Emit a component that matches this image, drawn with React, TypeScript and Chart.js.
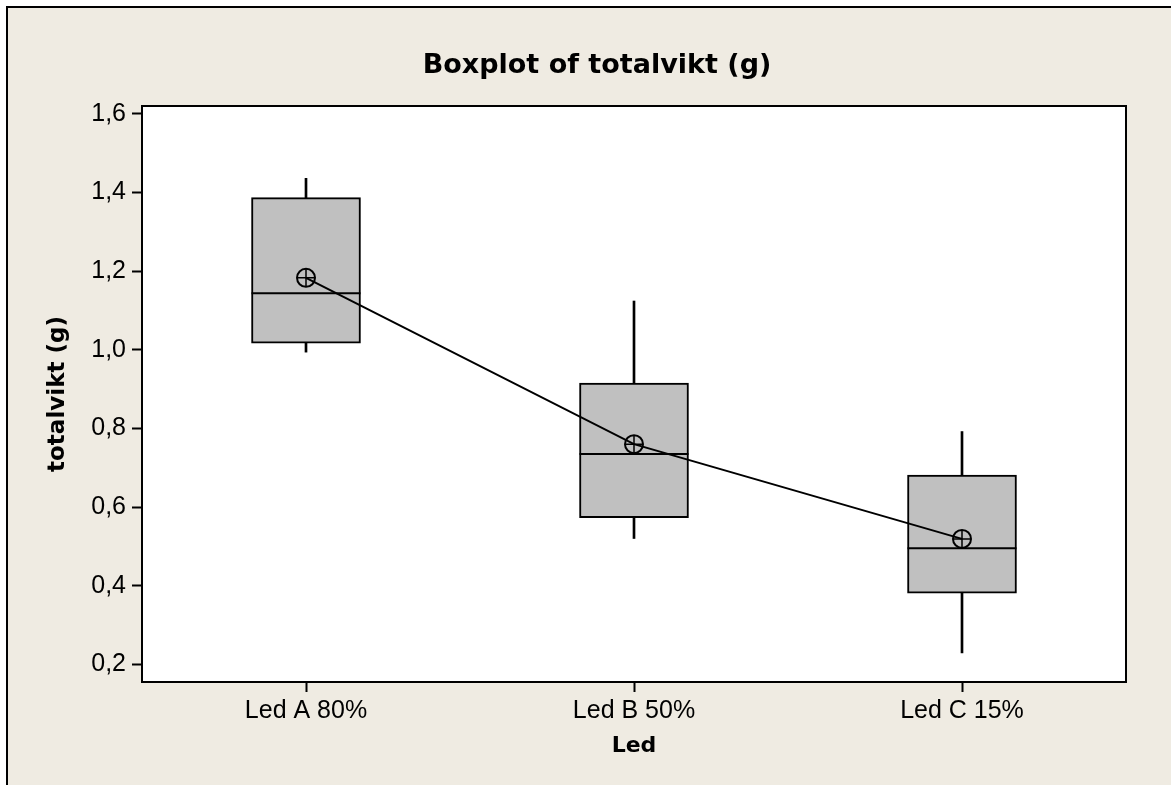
import React, { useEffect, useRef } from "react";
import { Chart, registerables } from "chart.js";

Chart.register(...registerables);

// ---- data ----
const categories = ["Led A 80%", "Led B 50%", "Led C 15%"];
const whiskerLow = [0.994, 0.52, 0.229];
const q1 = [1.017, 0.573, 0.381];
const median = [1.144, 0.735, 0.495];
const q3 = [1.387, 0.915, 0.681];
const whiskerHigh = [1.436, 1.124, 0.792];
const means = [1.183, 0.76, 0.519];
const yTickValues = [0.2, 0.4, 0.6, 0.8, 1.0, 1.2, 1.4, 1.6];
const yMin = 0.155;
const yMax = 1.62;
const chartTitle = "Boxplot of totalvikt (g)";
const xTitle = "Led";
const yTitle = "totalvikt (g)";

const BEIGE = "#EFEBE2";
const BOX_FILL = "#C0C0C0";
const REG_FONT = "'Liberation Sans', Arial, sans-serif";
const BOLD_FONT = "'DejaVu Sans', Verdana, sans-serif";

const framePlugin = {
  id: "framePlugin",
  beforeDraw(chart: any) {
    const { ctx, width, height, chartArea } = chart;
    ctx.save();
    ctx.fillStyle = "#ffffff";
    ctx.fillRect(0, 0, width, height);
    ctx.fillStyle = BEIGE;
    ctx.fillRect(7, 7, width, height);
    ctx.strokeStyle = "#000";
    ctx.lineWidth = 2;
    ctx.beginPath();
    ctx.moveTo(7, height);
    ctx.lineTo(7, 7);
    ctx.lineTo(width, 7);
    ctx.stroke();
    ctx.fillStyle = "#ffffff";
    ctx.fillRect(chartArea.left, chartArea.top, chartArea.right - chartArea.left, chartArea.bottom - chartArea.top);
    ctx.fillStyle = "#000";
    ctx.font = `bold 27px ${BOLD_FONT}`;
    ctx.textAlign = "center";
    ctx.textBaseline = "middle";
    ctx.fillText(chartTitle, 597, 66);
    ctx.restore();
  },
  afterDraw(chart: any) {
    const { ctx, chartArea } = chart;
    ctx.save();
    ctx.strokeStyle = "#000";
    ctx.lineWidth = 2;
    ctx.strokeRect(chartArea.left, chartArea.top, chartArea.right - chartArea.left, chartArea.bottom - chartArea.top);
    ctx.restore();
  },
};

export default function App() {
  const ref = useRef<HTMLCanvasElement | null>(null);

  useEffect(() => {
    if (!ref.current) return;
    const chart = new Chart(ref.current, {
      type: "bar",
      data: {
        labels: categories,
        datasets: [
          {
            type: "line",
            label: "Mean cross",
            data: means,
            showLine: false,
            pointStyle: "cross",
            pointRadius: 9,
            pointBorderWidth: 1.5,
            pointBorderColor: "#000",
            order: 0,
          } as any,
          {
            type: "line",
            label: "Mean",
            data: means,
            borderColor: "#000",
            borderWidth: 2,
            tension: 0,
            pointStyle: "circle",
            pointRadius: 9,
            pointBorderWidth: 2,
            pointBorderColor: "#000",
            pointBackgroundColor: "rgba(0,0,0,0)",
            order: 1,
          } as any,
          {
            type: "line",
            label: "Median",
            data: median,
            showLine: false,
            pointStyle: "line",
            pointRadius: 54.5,
            pointBorderWidth: 2,
            pointBorderColor: "#000",
            order: 2,
          } as any,
          {
            type: "bar",
            label: "IQR",
            data: q1.map((v, i) => [v, q3[i]]),
            backgroundColor: BOX_FILL,
            borderColor: "#000",
            borderWidth: 2,
            borderSkipped: false,
            barThickness: 109,
            grouped: false,
            order: 3,
          } as any,
          {
            type: "bar",
            label: "Whiskers",
            data: whiskerLow.map((v, i) => [v, whiskerHigh[i]]),
            backgroundColor: "#000",
            borderWidth: 0,
            barThickness: 2,
            grouped: false,
            order: 4,
          } as any,
        ],
      },
      options: {
        animation: false,
        responsive: false,
        events: [],
        layout: { autoPadding: false, padding: { left: 0, top: 106, right: 45, bottom: 0 } },
        plugins: {
          legend: { display: false },
          tooltip: { enabled: false },
          title: { display: false },
        },
        scales: {
          x: {
            type: "category",
            offset: true,
            border: { display: false },
            grid: {
              offset: false,
              drawOnChartArea: false,
              drawTicks: true,
              tickLength: 10,
              tickWidth: 2,
              color: "#000",
            },
            ticks: {
              color: "#000",
              font: { family: REG_FONT, size: 25 },
              padding: 4,
              maxRotation: 0,
            },
            title: {
              display: true,
              text: xTitle,
              color: "#000",
              font: { family: BOLD_FONT, size: 22, weight: "bold" },
              padding: { top: 0, bottom: 26 },
            },
            afterFit: (scale: any) => {
              scale.height = 103;
              scale.paddingLeft = 0;
              scale.paddingRight = 0;
            },
          },
          y: {
            type: "linear",
            min: yMin,
            max: yMax,
            border: { display: false },
            grid: {
              drawOnChartArea: false,
              drawTicks: true,
              tickLength: 10,
              tickWidth: 2,
              color: "#000",
            },
            afterBuildTicks: (scale: any) => {
              scale.ticks = yTickValues.map((v) => ({ value: v }));
            },
            ticks: {
              color: "#000",
              font: { family: REG_FONT, size: 25 },
              padding: 6,
              callback: (v: any) => Number(v).toFixed(1).replace(".", ","),
            },
            title: {
              display: true,
              text: yTitle,
              color: "#000",
              font: { family: BOLD_FONT, size: 23, weight: "bold" },
              padding: { top: 44, bottom: 0 },
            },
            afterFit: (scale: any) => {
              scale.width = 142;
            },
          },
        },
      } as any,
      plugins: [framePlugin],
    });
    return () => chart.destroy();
  }, []);

  return (
    <div style={{ position: "fixed", left: 0, top: 0, width: 1171, height: 785 }}>
      <canvas ref={ref} width={1171} height={785} style={{ display: "block" }} />
    </div>
  );
}
